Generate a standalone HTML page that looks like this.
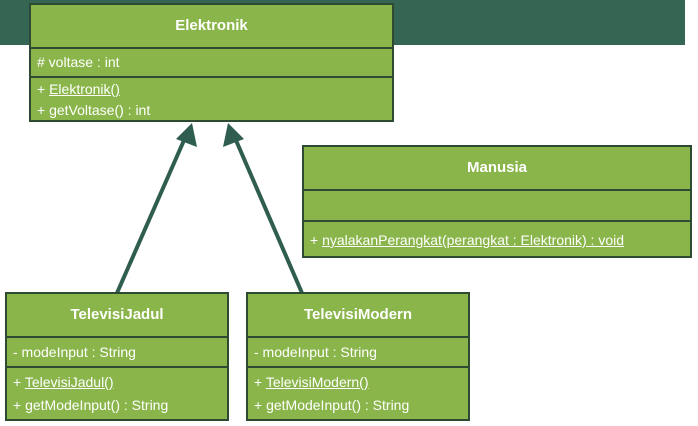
<!DOCTYPE html>
<html><head><style>
body{margin:0;width:698px;height:426px;background:#fff;position:relative;overflow:hidden;font-family:"Liberation Sans",sans-serif;color:#fff}
.banner{position:absolute;left:0;top:0;width:685px;height:45px;background:#356654}
.box{position:absolute;background:#8ab54a;border:2px solid #2f4a33;box-sizing:border-box}
.sec{position:absolute;left:0;right:0;border-top:2px solid #2f4a33;box-sizing:border-box;padding-left:6px;font-size:14px}
.h{position:absolute;left:0;right:0;top:0;text-align:center;font-weight:bold;font-size:15px}
u{text-decoration:underline}
</style></head><body>
<div class="banner"></div>
<svg style="position:absolute;left:0;top:0" width="698" height="426">
<g stroke="#2f5d4f" stroke-width="4" fill="#2f5d4f">
<line x1="117" y1="293" x2="185" y2="138"/>
<line x1="302" y1="293" x2="235" y2="138"/>
<polygon points="192,123 197,147 176,139" stroke="none"/>
<polygon points="228,123 223,147 244,139" stroke="none"/>
</g></svg>

<div class="box" style="left:29px;top:3px;width:365px;height:119px">
<div class="h" style="line-height:42px">Elektronik</div>
<div class="sec" style="top:42px;height:29px;line-height:27px"># voltase : int</div>
<div class="sec" style="top:71px;height:44px;line-height:21px;padding-top:1px">+ <u>Elektronik()</u><br>+ getVoltase() : int</div>
</div>

<div class="box" style="left:302px;top:145px;width:390px;height:113px">
<div class="h" style="line-height:42px">Manusia</div>
<div class="sec" style="top:42px;height:31px"></div>
<div class="sec" style="top:73px;height:38px;line-height:36px;font-size:14px">+ <u>nyalakanPerangkat(perangkat : Elektronik) : void</u></div>
</div>

<div class="box" style="left:5px;top:292px;width:224px;height:129px">
<div class="h" style="line-height:42px">TelevisiJadul</div>
<div class="sec" style="top:42px;height:30px;line-height:28px">- modeInput : String</div>
<div class="sec" style="top:72px;height:55px;line-height:23px;padding-top:3px">+ <u>TelevisiJadul()</u><br>+ getModeInput() : String</div>
</div>

<div class="box" style="left:246px;top:292px;width:224px;height:129px">
<div class="h" style="line-height:42px">TelevisiModern</div>
<div class="sec" style="top:42px;height:30px;line-height:28px">- modeInput : String</div>
<div class="sec" style="top:72px;height:55px;line-height:23px;padding-top:3px">+ <u>TelevisiModern()</u><br>+ getModeInput() : String</div>
</div>
</body></html>
